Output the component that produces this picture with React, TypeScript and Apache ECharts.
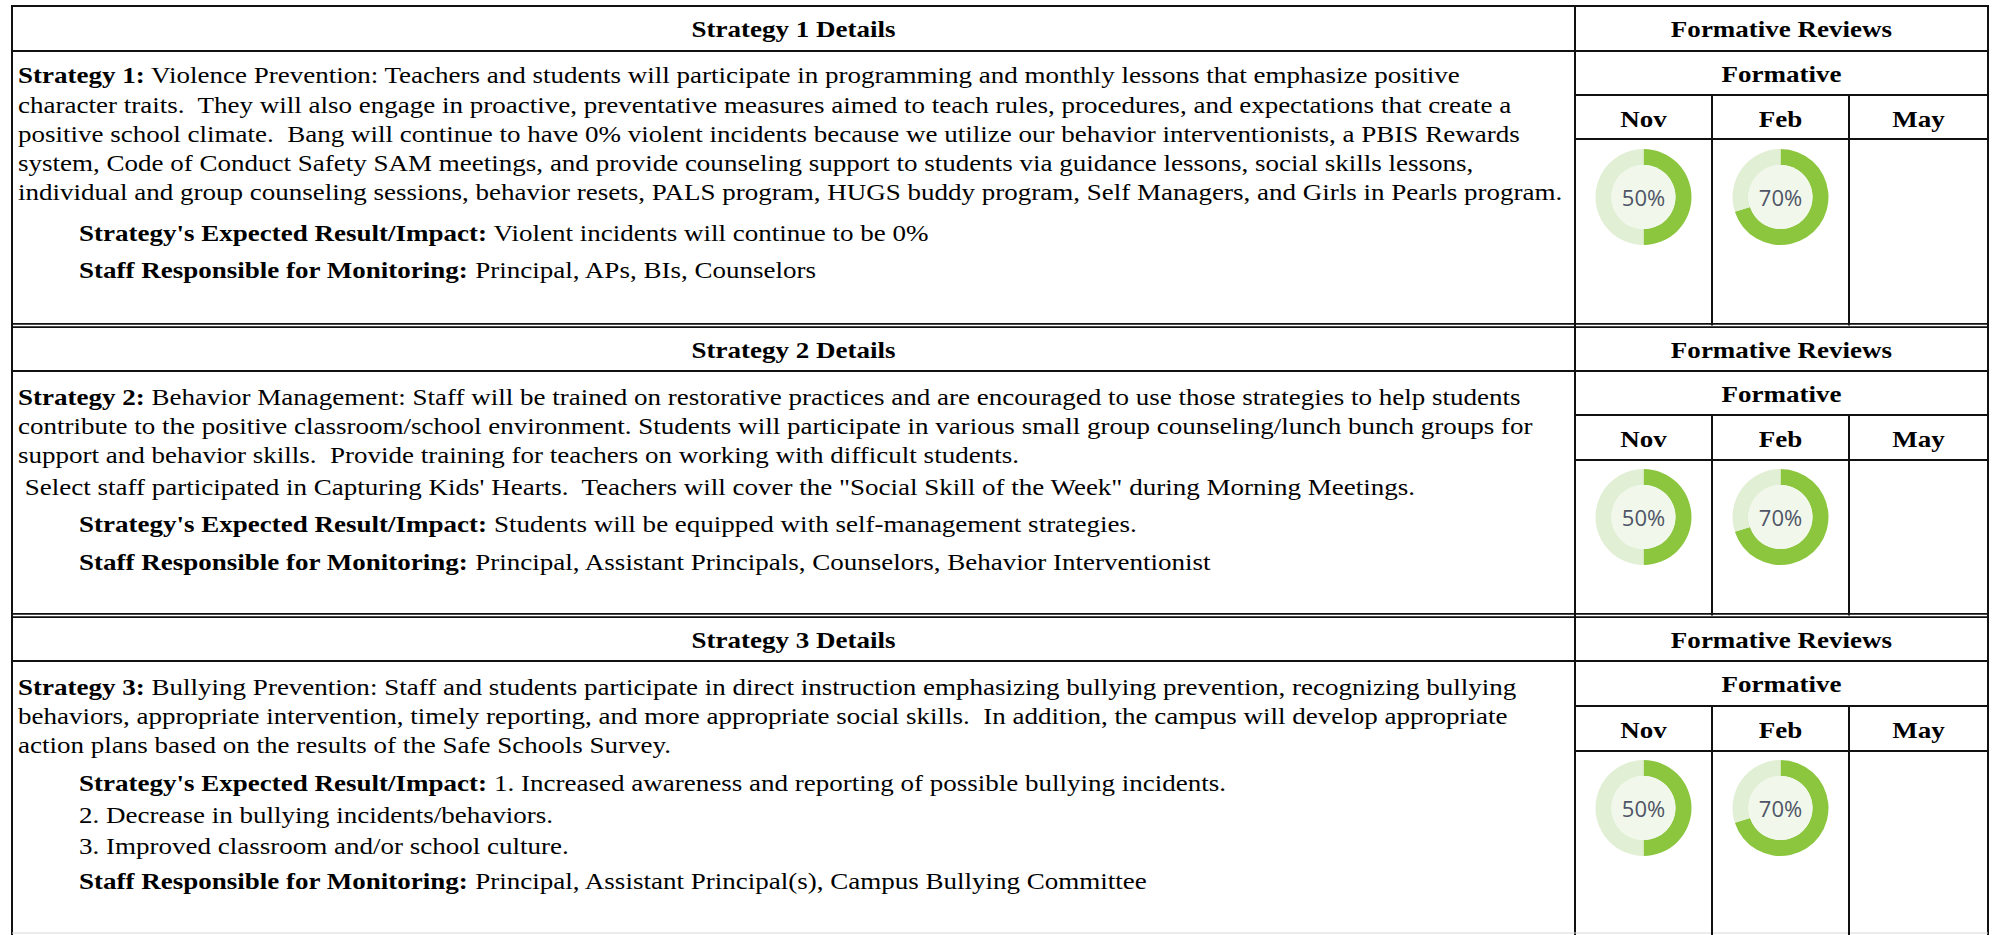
import React, { useEffect, useRef } from "react";
import * as echarts from "echarts";

// ---------- data ----------
const months = ["Nov", "Feb", "May"];
const detailHeaders = ["Strategy 1 Details", "Strategy 2 Details", "Strategy 3 Details"];
const reviewHeader = "Formative Reviews";
const subHeader = "Formative";
// formative review progress (%) per strategy; null = not yet reviewed
const novValues = [50, 50, 50];
const febValues = [70, 70, 70];
const mayValues: (number | null)[] = [null, null, null];

const s1Body = [
  "{b|Strategy 1:} Violence Prevention: Teachers and students will participate in programming and monthly lessons that emphasize positive",
  "character traits.  They will also engage in proactive, preventative measures aimed to teach rules, procedures, and expectations that create a",
  "positive school climate.  Bang will continue to have 0% violent incidents because we utilize our behavior interventionists, a PBIS Rewards",
  "system, Code of Conduct Safety SAM meetings, and provide counseling support to students via guidance lessons, social skills lessons,",
  "individual and group counseling sessions, behavior resets, PALS program, HUGS buddy program, Self Managers, and Girls in Pearls program.",
];
const s1Extra = [
  "{b|Strategy's Expected Result/Impact:} Violent incidents will continue to be 0%",
  "{b|Staff Responsible for Monitoring:} Principal, APs, BIs, Counselors",
];
const s2Body = [
  "{b|Strategy 2:} Behavior Management: Staff will be trained on restorative practices and are encouraged to use those strategies to help students",
  "contribute to the positive classroom/school environment. Students will participate in various small group counseling/lunch bunch groups for",
  "support and behavior skills.  Provide training for teachers on working with difficult students.",
  " Select staff participated in Capturing Kids' Hearts.  Teachers will cover the \"Social Skill of the Week\" during Morning Meetings.",
];
const s2Extra = [
  "{b|Strategy's Expected Result/Impact:} Students will be equipped with self-management strategies.",
  "{b|Staff Responsible for Monitoring:} Principal, Assistant Principals, Counselors, Behavior Interventionist",
];
const s3Body = [
  "{b|Strategy 3:} Bullying Prevention: Staff and students participate in direct instruction emphasizing bullying prevention, recognizing bullying",
  "behaviors, appropriate intervention, timely reporting, and more appropriate social skills.  In addition, the campus will develop appropriate",
  "action plans based on the results of the Safe Schools Survey.",
];
const s3Extra = [
  "{b|Strategy's Expected Result/Impact:} 1. Increased awareness and reporting of possible bullying incidents.",
  "2. Decrease in bullying incidents/behaviors.",
  "3. Improved classroom and/or school culture.",
  "{b|Staff Responsible for Monitoring:} Principal, Assistant Principal(s), Campus Bullying Committee",
];

// ---------- layout ----------
const W = 1993;
const H = 935;
const FONT = "'Liberation Serif', 'Times New Roman', serif";
const FS = 23;
const SX = 1.175;
const LEFT = 12;
const DIV = 1575;
const RIGHT = 1988;
const SUB1 = 1712;
const SUB2 = 1849;
const TEXT_X = 18;
const INDENT_X = 79;
const GREEN = "#8cc63e";
const TRACK = "#e1efd4";
const INNER = "#f1f8eb";

type Sec = {
  top: number;
  rows: number[];
  bottom: number | null;
  bodyY: number[];
  extraY: number[];
  extraX: number[];
  gaugeY: number;
};
const secs: Sec[] = [
  { top: 6, rows: [51, 95, 139], bottom: 325.5, bodyY: [75.7, 104.9, 134.1, 163.3, 192.5], extraY: [233.5, 270.5], extraX: [INDENT_X, INDENT_X], gaugeY: 197 },
  { top: 325.5, rows: [371, 415, 460], bottom: 615.5, bodyY: [397.1, 426.3, 455.5, 487], extraY: [524.2, 562.3], extraX: [INDENT_X, INDENT_X], gaugeY: 517 },
  { top: 615.5, rows: [661, 706, 751], bottom: null, bodyY: [686.9, 716.1, 745.4], extraY: [783.5, 815.3, 845.8, 881.4], extraX: [INDENT_X, INDENT_X, INDENT_X, INDENT_X], gaugeY: 808 },
];
const bodies = [s1Body, s2Body, s3Body];
const extras = [s1Extra, s2Extra, s3Extra];

const rich = {
  b: { fontWeight: "bold" as const, fontFamily: FONT, fontSize: FS, fill: "#000", color: "#000" },
};

function line(x1: number, y1: number, x2: number, y2: number, w = 2, c = "#111") {
  return { type: "line", silent: true, shape: { x1, y1, x2, y2 }, style: { stroke: c, lineWidth: w } };
}
function text(t: string, x: number, y: number, align: string, bold = false) {
  return {
    type: "text",
    silent: true,
    x,
    y,
    scaleX: SX,
    style: {
      text: t,
      fontFamily: FONT,
      fontSize: FS,
      fontWeight: bold ? "bold" : "normal",
      fill: "#000",
      align,
      verticalAlign: "middle",
      rich,
    },
  };
}

function buildOption() {
  const els: any[] = [];
  els.push(line(LEFT, 6, RIGHT, 6, 2));
  els.push(line(LEFT, 5, LEFT, H, 2));
  els.push(line(RIGHT, 5, RIGHT, H, 2));
  els.push(line(DIV, 5, DIV, H, 2));
  els.push(line(LEFT, H - 2, RIGHT, H - 2, 1, "#d8d8d8"));

  secs.forEach((s, i) => {
    const [r1, r2, r3] = s.rows;
    els.push(line(LEFT, r1, RIGHT, r1, 2));
    els.push(line(DIV, r2, RIGHT, r2, 2));
    els.push(line(DIV, r3, RIGHT, r3, 2));
    const subBottom = s.bottom === null ? H : s.bottom;
    els.push(line(SUB1, r2, SUB1, subBottom, 2));
    els.push(line(SUB2, r2, SUB2, subBottom, 2));
    if (s.bottom !== null) {
      els.push(line(LEFT, s.bottom - 1.6, RIGHT, s.bottom - 1.6, 1.6));
      els.push(line(LEFT, s.bottom + 1.6, RIGHT, s.bottom + 1.6, 1.6));
    }
    const hTop = i === 0 ? s.top : s.top + 1.6;
    els.push(text(detailHeaders[i], (LEFT + DIV) / 2, (hTop + r1) / 2 + 1, "center", true));
    els.push(text(reviewHeader, (DIV + RIGHT) / 2, (hTop + r1) / 2 + 1, "center", true));
    els.push(text(subHeader, (DIV + RIGHT) / 2, (r1 + r2) / 2 + 1, "center", true));
    const cols = [DIV, SUB1, SUB2, RIGHT];
    months.forEach((m, j) => {
      els.push(text(m, (cols[j] + cols[j + 1]) / 2, (r2 + r3) / 2 + 2, "center", true));
    });
    bodies[i].forEach((t, k) => els.push(text(t, TEXT_X, s.bodyY[k], "left")));
    extras[i].forEach((t, k) => els.push(text(t, s.extraX[k], s.extraY[k], "left")));
  });

  const series: any[] = [];
  const cols = [DIV, SUB1, SUB2, RIGHT];
  const monthVals = [novValues, febValues, mayValues];
  secs.forEach((s, i) => {
    monthVals.forEach((vals, j) => {
      const v = vals[i];
      if (v === null || v === undefined) return;
      const cx = (cols[j] + cols[j + 1]) / 2;
      const center = [cx, s.gaugeY];
      series.push({
        type: "pie",
        silent: true,
        center,
        radius: [32, 48],
        startAngle: 90,
        clockwise: true,
        label: { show: false },
        labelLine: { show: false },
        emphasis: { disabled: true },
        itemStyle: { borderWidth: 0 },
        data: [
          { value: v, itemStyle: { color: GREEN } },
          { value: 100 - v, itemStyle: { color: TRACK } },
        ],
      });
      series.push({
        type: "pie",
        silent: true,
        center,
        radius: [0, 32],
        emphasis: { disabled: true },
        itemStyle: { borderWidth: 0 },
        labelLine: { show: false },
        label: {
          show: true,
          position: "center",
          formatter: "{b}",
          fontFamily: "'Open Sans', 'Noto Sans', sans-serif",
          fontSize: 22,
          color: "#4f5466",
        },
        data: [{ value: 1, name: v + "%", itemStyle: { color: INNER } }],
      });
    });
  });

  return {
    animation: false,
    backgroundColor: "#ffffff",
    graphic: { elements: els },
    series,
  };
}

export default function App() {
  const ref = useRef<HTMLDivElement>(null);
  useEffect(() => {
    if (!ref.current) return;
    const chart = echarts.init(ref.current, undefined, { renderer: "svg" });
    chart.setOption(buildOption() as any);
    return () => chart.dispose();
  }, []);
  return (
    <div
      ref={ref}
      style={{ position: "fixed", left: 0, top: 0, width: W, height: H, background: "#fff" }}
    />
  );
}
